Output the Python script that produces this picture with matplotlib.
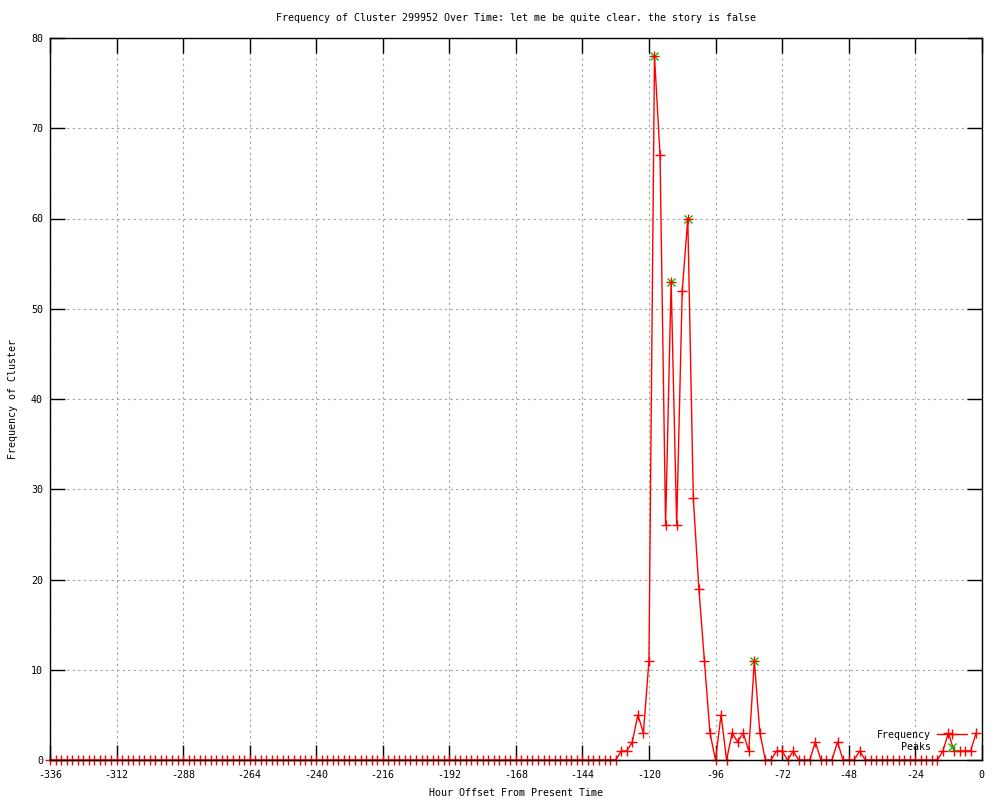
import numpy as np
from matplotlib import pyplot as plt

plt.rcParams['font.family'] = ['DejaVu Sans Mono']
plt.rcParams['axes.unicode_minus'] = False

# hours before present, one sample every 2 hours (-336 .. -2)
hours = list(range(-336, 0, 2))

# frequency per sample (168 values)
freq = [
    0, 0, 0, 0, 0, 0, 0, 0, 0, 0, 0, 0,   # -336 .. -314
    0, 0, 0, 0, 0, 0, 0, 0, 0, 0, 0, 0,   # -312 .. -290
    0, 0, 0, 0, 0, 0, 0, 0, 0, 0, 0, 0,   # -288 .. -266
    0, 0, 0, 0, 0, 0, 0, 0, 0, 0, 0, 0,   # -264 .. -242
    0, 0, 0, 0, 0, 0, 0, 0, 0, 0, 0, 0,   # -240 .. -218
    0, 0, 0, 0, 0, 0, 0, 0, 0, 0, 0, 0,   # -216 .. -194
    0, 0, 0, 0, 0, 0, 0, 0, 0, 0, 0, 0,   # -192 .. -170
    0, 0, 0, 0, 0, 0, 0, 0, 0, 0, 0, 0,   # -168 .. -146
    0, 0, 0, 0, 0, 0, 0, 1, 1, 2, 5, 3,   # -144 .. -122
    11, 78, 67, 26, 53, 26, 52, 60, 29, 19, 11, 3,   # -120 .. -98
    0, 5, 0, 3, 2, 3, 1, 11, 3, 0, 0, 1,  # -96 .. -74
    1, 0, 1, 0, 0, 0, 2, 0, 0, 0, 2, 0,   # -72 .. -50
    0, 0, 1, 0, 0, 0, 0, 0, 0, 0, 0, 0,   # -48 .. -26
    0, 0, 0, 0, 0, 1, 3, 1, 1, 1, 1, 3,   # -24 .. -2
]

# detected peaks
peak_hours = [-118, -112, -106, -82]
peak_vals = [78, 53, 60, 11]

fig = plt.figure(figsize=(10, 8), dpi=100)
ax = fig.add_axes([0.05, 0.05, 0.9317, 0.9025])

ax.plot(peak_hours, peak_vals, linestyle='none', marker='x', color='#00c000',
        markersize=6, markeredgewidth=1, label='Peaks', zorder=2, clip_on=False)
ax.plot(hours, freq, color='red', linewidth=1.0, marker='+', markersize=7,
        markeredgewidth=1, label='Frequency', zorder=3, clip_on=False)

ax.set_xlim(-336, 0)
ax.set_ylim(0, 80)
ax.set_xticks(range(-336, 1, 24))
ax.set_yticks(range(0, 81, 10))
ax.grid(True, color='#a0a0a0', linestyle=(0, (2, 3)), linewidth=0.8)
ax.tick_params(direction='in', length=11, width=1, labelsize=7.2,
               top=True, right=True)
ax.tick_params(axis='x', pad=7)
ax.tick_params(axis='y', pad=5)
for s in ax.spines.values():
    s.set_linewidth(1)
    s.set_zorder(4)

ax.set_title('Frequency of Cluster 299952 Over Time: let me be quite clear. the story is false',
             fontsize=7.2, pad=12)
ax.set_xlabel('Hour Offset From Present Time', fontsize=7.2)
ax.set_ylabel('Frequency of Cluster', fontsize=7.2)
ax.xaxis.set_label_coords(0.5, -0.039)
ax.yaxis.set_label_coords(-0.034, 0.5)

h, l = ax.get_legend_handles_labels()
ax.legend(h[::-1], l[::-1], loc='lower right', frameon=False, markerfirst=False,
          fontsize=7.2, handlelength=3.0, labelspacing=0.25, numpoints=1,
          bbox_to_anchor=(0.993, 0.0), borderaxespad=0.4, handletextpad=0.6)

fig.savefig('out.png', dpi=100)
